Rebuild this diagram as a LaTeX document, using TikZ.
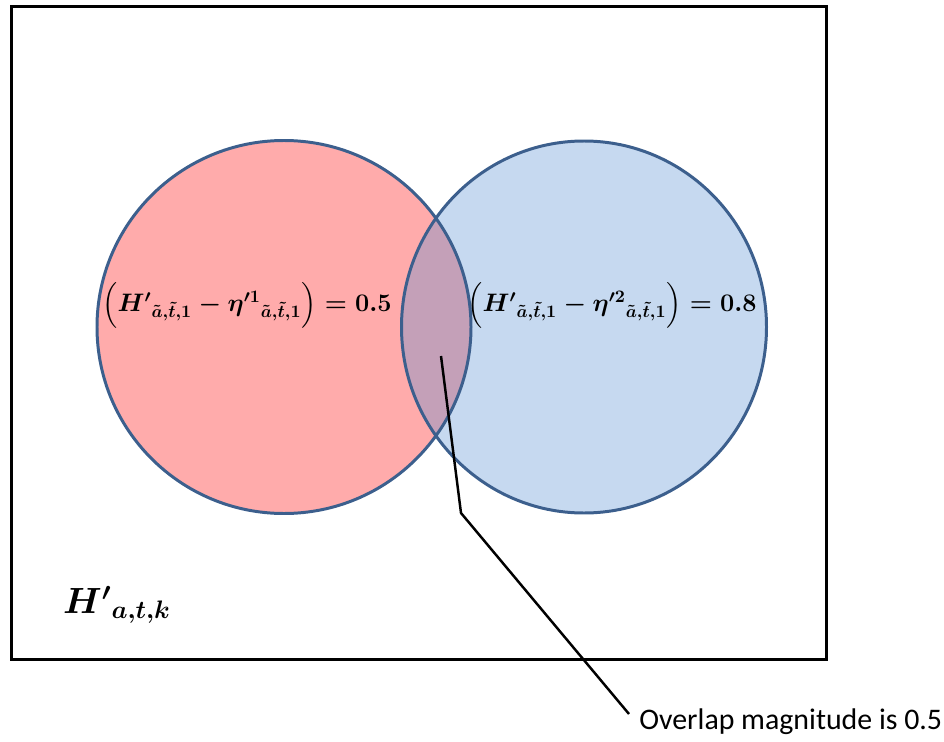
\documentclass[tikz,border=0pt]{standalone}
\usepackage{amsmath,amssymb,bm}
\usepackage{fontspec}
\newfontfamily\calib{Carlito}
\usepackage{tikz}
\usetikzlibrary{shapes.geometric}
\definecolor{setred}{HTML}{FFABAB}
\definecolor{setblue}{HTML}{C6D9F0}
\definecolor{setmix}{HTML}{C4A0B8}
\definecolor{setedge}{HTML}{3C5F8D}

\begin{document}
\begin{tikzpicture}[
  setA/.style={draw=setedge,line width=1.7pt,ellipse,inner sep=0pt},
  lbl/.style={font=\fontsize{14.5}{17}\selectfont\boldmath},
  lead/.style={draw,line width=1.4pt}]
\useasboundingbox (0,0) rectangle (18.88,-14.84);
\node[draw,line width=1.5pt,minimum width=16.3cm,minimum height=13.06cm,anchor=north west] (univ) at (0.2,-0.1) {};
% the two sets
\path[fill=setred] (5.68,-6.54) ellipse (3.74 and 3.73);
\path[fill=setblue] (11.68,-6.54) ellipse (3.65 and 3.72);
\begin{scope}
  \clip (5.68,-6.54) ellipse (3.74 and 3.73);
  \path[fill=setmix] (11.68,-6.54) ellipse (3.65 and 3.72);
\end{scope}
\node[setA,minimum width=7.48cm,minimum height=7.46cm] (redset) at (5.68,-6.54) {};
\node[setA,minimum width=7.3cm,minimum height=7.44cm] (blueset) at (11.68,-6.54) {};
\node[lbl] (redtxt) at (4.94,-6.1) {$\Bigl(\bm{{H'}_{\tilde{a},\tilde{t},1}-{\eta'^{1}}_{\tilde{a},\tilde{t},1}}\Bigr)=\mathbf{0.5}$};
\node[lbl] (bluetxt) at (12.24,-6.1) {$\Bigl(\bm{{H'}_{\tilde{a},\tilde{t},1}-{\eta'^{2}}_{\tilde{a},\tilde{t},1}}\Bigr)=\mathbf{0.8}$};
\node[font=\fontsize{20}{24}\selectfont\boldmath] (univtxt) at (2.34,-12.1) {$\bm{{H'}_{a,t,k}}$};
% callout
\coordinate (ovl) at (8.82,-7.12);
\coordinate (kink) at (9.22,-10.26);
\node[font=\calib\fontsize{17}{20}\selectfont,anchor=west,inner sep=0pt] (note) at (12.78,-14.44) {Overlap magnitude is 0.5};
\draw[lead] (ovl) -- (kink) -- ([xshift=-2mm,yshift=1.6mm]note.west);
\end{tikzpicture}
\end{document}
